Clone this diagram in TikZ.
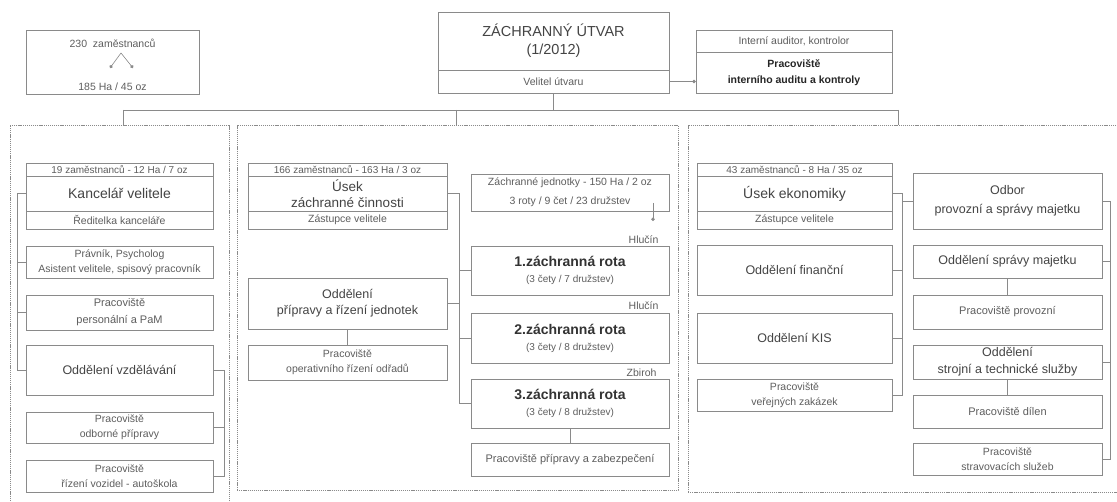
\documentclass[tikz,border=0pt]{standalone}
\usepackage{fontspec}
\setmainfont{Liberation Sans}
\usetikzlibrary{arrows.meta}
\definecolor{lc}{HTML}{8a8a8a}
\definecolor{tc}{HTML}{444444}
\definecolor{ts}{HTML}{5e5e5e}
\begin{document}
\begin{tikzpicture}[x=1pt,y=-1pt,
 box/.style={draw=lc, line width=0.7pt, fill=white, inner sep=0pt, align=center, text=tc},
 wh/.style 2 args={minimum width=#1, minimum height=#2},
 grp/.style={draw=lc, line width=0.6pt, dash pattern=on 1.2pt off 0.9pt, inner sep=0pt},
 conn/.style={draw=lc, line width=0.7pt},
 dot/.style={-{Circle[length=3.4pt]}},
 txs/.style={font=\fontsize{10.5}{15}\selectfont, text=ts},
 txh/.style={font=\fontsize{10}{12}\selectfont, text=ts},
 txm/.style={font=\fontsize{12.5}{17}\selectfont},
 txl/.style={font=\fontsize{14}{17}\selectfont},
 txb/.style={font=\fontsize{10.5}{16}\selectfont\bfseries, text=black!85},
 rota/.style={font=\fontsize{14}{17}\selectfont\bfseries, text=black!80},
]
\useasboundingbox[fill=white] (0,0) rectangle (1117,502);

% group boxes
\node[grp, wh={219}{380}] (gL) at (119.5,315) {};
\node[grp, wh={441}{365}] (gM) at (457.5,307.5) {};
\node[grp, wh={440}{367}] (gR) at (908,308.5) {};

% top-left summary
\node[box, wh={173}{64}] (cnt) at (112.5,62) {};
\node[txs] (cnt1) at (112.5,43) {230\ \ zaměstnanců};
\node[txs] (cnt2) at (112.5,87) {185 Ha / 45 oz};
\coordinate (cp) at (121,53);
\coordinate (cl) at (110,68);
\coordinate (cr) at (133,68);
\draw[conn, line width=0.6pt, dot] (cp) -- (cl);
\draw[conn, line width=0.6pt, dot] (cp) -- (cr);

% top centre
\node[box, wh={231}{58}, font=\fontsize{14.5}{18}\selectfont] (ut) at (553.5,41) {ZÁCHRANNÝ ÚTVAR\\(1/2012)};
\node[box, wh={231}{23}, txs] (vel) at (553.5,81.5) {Velitel útvaru};

% audit
\node[box, wh={196}{22}, txs] (aud1) at (794,41) {Interní auditor, kontrolor};
\node[box, wh={196}{41}, txb] (aud2) at (794,72.5) {Pracoviště\\interního auditu a kontroly};
\draw[conn, dot] (vel.east) -- (vel.east -| aud2.west);

% top bus
\coordinate (bL) at (123,110);
\coordinate (bM) at (456,110);
\coordinate (bR) at (898,110);
\coordinate (tL) at (123,125);
\coordinate (tM) at (456,125);
\coordinate (tR) at (898,125);
\draw[conn] (vel.south) -- (vel.south |- bL);
\draw[conn] (bL) -- (bR);
\draw[conn] (bL) -- (tL);
\draw[conn] (bM) -- (tM);
\draw[conn] (bR) -- (tR);

% ---------- left group
\node[box, wh={187}{13}, txh] (h19) at (119.5,169.5) {19 zaměstnanců - 12 Ha / 7 oz};
\node[box, wh={187}{35}, txl] (kv) at (119.5,193.5) {Kancelář velitele};
\node[box, wh={187}{18}, txs] (kvs) at (119.5,220) {Ředitelka kanceláře};
\node[box, wh={187}{32}, txs] (prav) at (119.5,262) {Právník, Psycholog\\Asistent velitele, spisový pracovník};
\node[box, wh={187}{35}, txs, font=\fontsize{11}{17}\selectfont] (pers) at (119.5,312.5) {Pracoviště\\personální a PaM};
\node[box, wh={187}{50}, txm] (vzd) at (119.5,370) {Oddělení vzdělávání};
\node[box, wh={187}{31}, txs] (odb) at (119.5,427.5) {Pracoviště\\odborné přípravy};
\node[box, wh={187}{32}, txs] (auto) at (119.5,476) {Pracoviště\\řízení vozidel - autoškola};

\coordinate (lv) at (17,0);
\coordinate (rv) at (224,0);
\draw[conn] (kv.west) -- (kv.west -| lv) -- (vzd.west -| lv) -- (vzd.west);
\draw[conn] (prav.west -| lv) -- (prav.west);
\draw[conn] (pers.west -| lv) -- (pers.west);
\draw[conn] (vzd.east) -- (vzd.east -| rv) -- (auto.east -| rv) -- (auto.east);
\draw[conn] (odb.east -| rv) -- (odb.east);

% ---------- middle group
\node[box, wh={199}{13}, txh] (h166) at (347.5,169.5) {166 zaměstnanců - 163 Ha / 3 oz};
\node[box, wh={199}{35}, font=\fontsize{13.5}{16}\selectfont] (uzc) at (347.5,193.5) {Úsek\\záchranné činnosti};
\node[box, wh={199}{18}, txs] (uzcs) at (347.5,220) {Zástupce velitele};
\node[box, wh={199}{51}, txm, font=\fontsize{12.5}{16}\selectfont] (opr) at (347.5,303.5) {Oddělení\\přípravy a řízení jednotek};
\node[box, wh={199}{35}, txs] (oper) at (347.5,362.5) {Pracoviště\\operativního řízení odřadů};
\draw[conn] (opr.south) -- (oper.north);

\node[box, wh={198}{37}, txs, font=\fontsize{10.5}{19}\selectfont] (zj) at (570,192.5) {Záchranné jednotky - 150 Ha / 2 oz\\3 roty / 9 čet / 23 družstev};
\coordinate (za) at (653,203);
\coordinate (zb) at (653,221);
\draw[conn, dot] (za) -- (zb);

\node[txs, anchor=east] (lh1) at (662,240) {Hlučín};
\node[box, wh={198}{49}, rota] (r1) at (570,270.5) {1.záchranná rota\\[-1pt]{\mdseries\fontsize{10}{12}\selectfont\color{ts}(3 čety / 7 družstev)}};
\node[txs, anchor=east] (lh2) at (662,306) {Hlučín};
\node[box, wh={198}{50}, rota] (r2) at (570,338) {2.záchranná rota\\[-1pt]{\mdseries\fontsize{10}{12}\selectfont\color{ts}(3 čety / 8 družstev)}};
\node[txs, anchor=east] (lzb) at (660,373) {Zbiroh};
\node[box, wh={198}{49}, rota] (r3) at (570,403.5) {3.záchranná rota\\[-1pt]{\mdseries\fontsize{10}{12}\selectfont\color{ts}(3 čety / 8 družstev)}};
\node[box, wh={198}{33}, txs, font=\fontsize{11}{14}\selectfont] (ppz) at (570,459.5) {Pracoviště přípravy a zabezpečení};
\draw[conn] (r3.south) -- (ppz.north);

\coordinate (mv) at (459,0);
\draw[conn] (uzc.east) -- (uzc.east -| mv) -- (r3.west -| mv) -- (r3.west);
\draw[conn] (opr.east) -- (opr.east -| mv);
\draw[conn] (r1.west -| mv) -- (r1.west);
\draw[conn] (r2.west -| mv) -- (r2.west);

% ---------- right group
\node[box, wh={195}{13}, txh] (h43) at (794.5,169.5) {43 zaměstnanců - 8 Ha / 35 oz};
\node[box, wh={195}{35}, txl] (ue) at (794.5,193.5) {Úsek ekonomiky};
\node[box, wh={195}{18}, txs] (ues) at (794.5,220) {Zástupce velitele};
\node[box, wh={195}{50}, txm] (fin) at (794.5,270) {Oddělení finanční};
\node[box, wh={195}{50}, txm] (kis) at (794.5,338) {Oddělení KIS};
\node[box, wh={195}{32}, txs] (vz) at (794.5,395) {Pracoviště\\veřejných zakázek};

\node[box, wh={189}{56}, txm, font=\fontsize{12.5}{19}\selectfont] (odbor) at (1007.5,201) {Odbor\\provozní a správy majetku};
\node[box, wh={189}{33}, txm] (osm) at (1007.5,261.5) {Oddělení správy majetku};
\node[box, wh={189}{34}, txs, font=\fontsize{11}{14}\selectfont] (pprov) at (1007.5,312) {Pracoviště provozní};
\node[box, wh={189}{34}, txm, font=\fontsize{12.5}{17}\selectfont] (ost) at (1007.5,362) {Oddělení\\strojní a technické služby};
\node[box, wh={189}{33}, txs, font=\fontsize{11}{14}\selectfont] (pdil) at (1007.5,411.5) {Pracoviště dílen};
\node[box, wh={189}{32}, txs] (pstr) at (1007.5,459) {Pracoviště\\stravovacích služeb};
\draw[conn] (osm.south) -- (pprov.north);
\draw[conn] (ost.south) -- (pdil.north);

\coordinate (ev) at (902,0);
\coordinate (fv) at (1110,0);
\draw[conn] (ue.east) -- (ue.east -| ev) -- (vz.east -| ev) -- (vz.east);
\draw[conn] (odbor.west -| ev) -- (odbor.west);
\draw[conn] (fin.east) -- (fin.east -| ev);
\draw[conn] (kis.east) -- (kis.east -| ev);
\draw[conn] (odbor.east) -- (odbor.east -| fv) -- (pstr.east -| fv) -- (pstr.east);
\draw[conn] (osm.east) -- (osm.east -| fv);
\draw[conn] (ost.east) -- (ost.east -| fv);
\end{tikzpicture}
\end{document}
